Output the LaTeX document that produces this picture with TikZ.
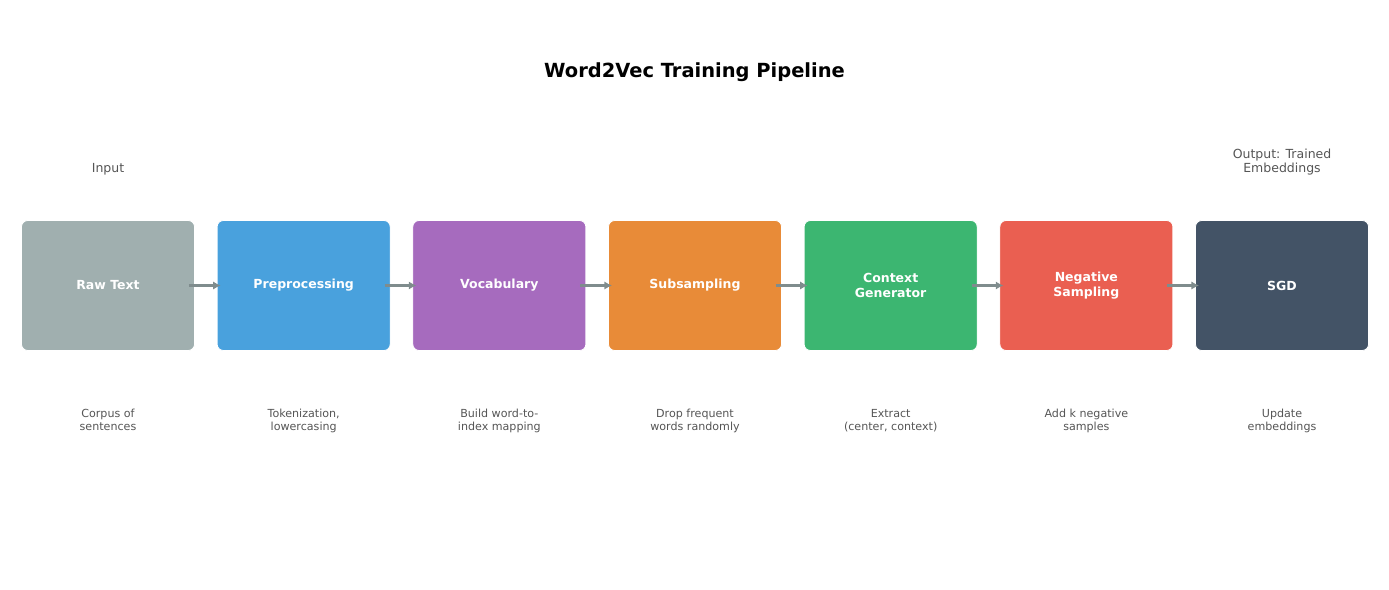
\documentclass[tikz,border=0pt]{standalone}
\usepackage{fontspec}
\setmainfont{DejaVu Sans}
\usetikzlibrary{arrows.meta}
\definecolor{rawc}{HTML}{A0AFAF}
\definecolor{prepc}{HTML}{49A1DD}
\definecolor{vocabc}{HTML}{A66BBE}
\definecolor{subsc}{HTML}{E88B38}
\definecolor{ctxc}{HTML}{3CB671}
\definecolor{negc}{HTML}{EA5F51}
\definecolor{sgdc}{HTML}{435366}
\definecolor{flowc}{HTML}{7F8C8D}
\definecolor{notec}{HTML}{555555}
\tikzset{
    stage/.style={rounded corners=4.5pt, draw=white, line width=0.6pt,
        minimum width=124.6pt, minimum height=93.6pt, text=white, align=center,
        font=\bfseries\fontsize{9}{10.8}\selectfont},
    note/.style={text=notec, align=center, font=\fontsize{8}{9.4}\selectfont},
    flow/.style={draw=flowc, line width=1.6pt, -{Latex[length=5.5pt,width=6pt]}}
}
\begin{document}
\begin{tikzpicture}[x=0.72pt, y=-0.72pt]
    \useasboundingbox (0,0) rectangle (1389,590);
    \node[font=\bfseries\fontsize{14}{17}\selectfont] (title) at (694.5,72) {Word2Vec Training Pipeline};

    % stages
    \foreach \i/\nm/\col/\lab/\desc in {
        0/raw/rawc/{Raw Text}/{Corpus of\\sentences},
        1/prep/prepc/{Preprocessing}/{Tokenization,\\lowercasing},
        2/vocab/vocabc/{Vocabulary}/{Build word-to-\\index mapping},
        3/subs/subsc/{Subsampling}/{Drop frequent\\words randomly},
        4/ctx/ctxc/{Context\\Generator}/{Extract\\(center, context)},
        5/neg/negc/{Negative\\Sampling}/{Add k negative\\samples},
        6/sgd/sgdc/{SGD}/{Update\\embeddings}} {
        \node[stage, fill=\col] (\nm) at (108+\i*195.67, 285.5) {\lab};
        \node[note, anchor=north] (\nm-d) at (108+\i*195.67, 404) {\desc};
    }

    \node[note, font=\fontsize{9}{10}\selectfont, anchor=south] (input) at (raw.center |- 0,180) {Input};
    \node[note, font=\fontsize{9}{10}\selectfont, anchor=south] (output) at (sgd.center |- 0,180) {Output: Trained\\Embeddings};

    \foreach \a/\b in {raw/prep, prep/vocab, vocab/subs, subs/ctx, ctx/neg, neg/sgd}
        \draw[flow] ([xshift=-4.3pt]\a.east) -- ([xshift=2.9pt]\b.west);
\end{tikzpicture}
\end{document}
